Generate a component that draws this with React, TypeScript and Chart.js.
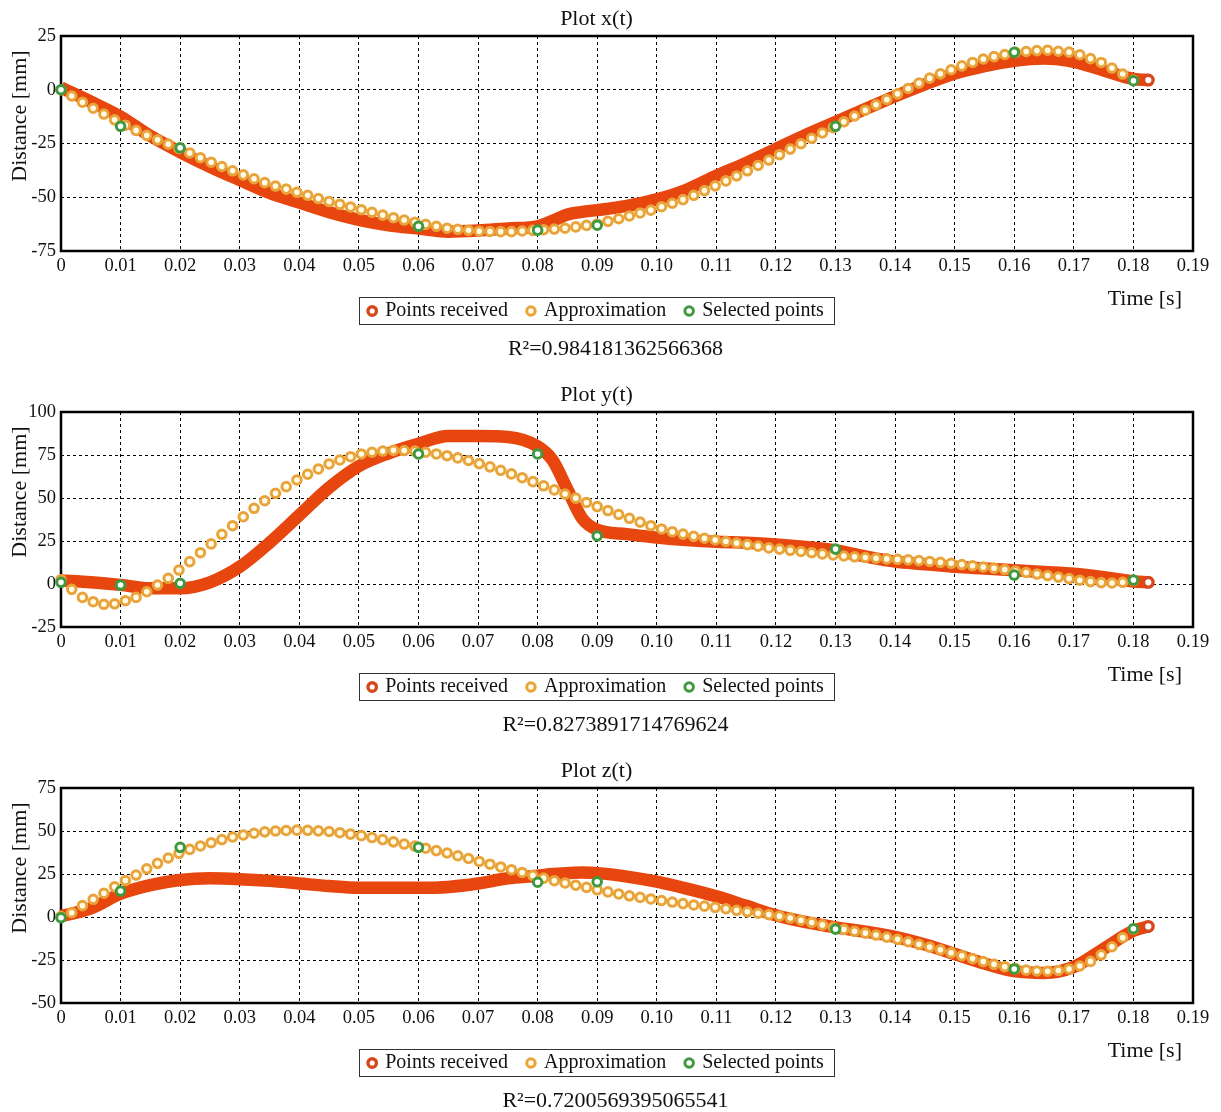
import React, { useEffect, useRef } from 'react';
import { Chart, registerables } from 'chart.js';

Chart.register(...registerables);

const FONT = "'Liberation Serif', 'Times New Roman', serif";
const TEXT = '#111';
const RED = '#e8460f';
const RED_RING = '#d8481e';
const ORANGE = '#e8a43a';
const ORANGE_FILL = '#fffbe6';
const GREEN = '#3f9a3f';

// ---------- axes ----------
const xTickValues = [0, 0.01, 0.02, 0.03, 0.04, 0.05, 0.06, 0.07, 0.08, 0.09, 0.1, 0.11, 0.12, 0.13, 0.14, 0.15, 0.16, 0.17, 0.18, 0.19];
const xTickLabels = ['0', '0.01', '0.02', '0.03', '0.04', '0.05', '0.06', '0.07', '0.08', '0.09', '0.10', '0.11', '0.12', '0.13', '0.14', '0.15', '0.16', '0.17', '0.18', '0.19'];
const yTicksX = [-75, -50, -25, 0, 25];
const yTicksY = [-25, 0, 25, 50, 75, 100];
const yTicksZ = [-50, -25, 0, 25, 50, 75];

const legendLabels = ['Points received', 'Approximation', 'Selected points'];
const plotTitles = ['Plot x(t)', 'Plot y(t)', 'Plot z(t)'];
const r2Texts = ['R\u00b2=0.984181362566368', 'R\u00b2=0.8273891714769624', 'R\u00b2=0.7200569395065541'];
const xAxisTitle = 'Time [s]';
const yAxisTitle = 'Distance [mm]';

// ---------- points received (read along the thick band) ----------
const receivedTimes = [0, 0.005, 0.01, 0.015, 0.02, 0.025, 0.03, 0.035, 0.04, 0.045, 0.05, 0.055, 0.06, 0.065, 0.07, 0.075, 0.08, 0.0825, 0.085, 0.0875, 0.09, 0.095, 0.1, 0.105, 0.11, 0.115, 0.12, 0.125, 0.13, 0.135, 0.14, 0.145, 0.15, 0.155, 0.16, 0.165, 0.17, 0.175, 0.18, 0.1825];
const receivedX = [1, -5.5, -12.5, -21.5, -29, -35.8, -42, -48, -52.5, -57, -60.5, -63, -64.5, -66, -65.5, -64.5, -63.5, -61, -58, -56.8, -56, -54, -51, -46.5, -40, -34, -27.5, -21, -15, -9, -3, 2.5, 7.5, 11, 13.5, 14.5, 13, 9, 5, 4.5];
const receivedY = [2, 1, -0.5, -2.5, -2.5, 1, 10, 24, 40, 56, 68.5, 76, 81.5, 86, 86, 85.5, 80, 72, 55, 38, 31.5, 29, 27, 25.5, 24.5, 24, 23, 21.5, 19.5, 16, 13, 11.5, 10, 9, 8, 7, 6, 4, 1.5, 1];
const receivedZ = [0.5, 5, 13.5, 18.5, 21.5, 22.5, 22, 21, 19.5, 18, 17, 17, 17, 17.5, 19.5, 22.5, 24, 25, 25.5, 25.8, 25.5, 23.5, 20.5, 16.5, 12, 6.5, 1, -3, -6, -8.5, -11.5, -16, -21.5, -27, -31.5, -32.5, -29, -18.5, -8, -5.5];

// ---------- approximation markers ----------
const approxTimes = [
  0, 0.0018, 0.0036, 0.0054, 0.0072, 0.009, 0.0108, 0.0126, 0.0144, 0.0162,
  0.018, 0.0198, 0.0216, 0.0234, 0.0252, 0.027, 0.0288, 0.0306, 0.0324, 0.0342,
  0.036, 0.0378, 0.0396, 0.0414, 0.0432, 0.045, 0.0468, 0.0486, 0.0504, 0.0522,
  0.054, 0.0558, 0.0576, 0.0594, 0.0612, 0.063, 0.0648, 0.0666, 0.0684, 0.0702,
  0.072, 0.0738, 0.0756, 0.0774, 0.0792, 0.081, 0.0828, 0.0846, 0.0864, 0.0882,
  0.09, 0.0918, 0.0936, 0.0954, 0.0972, 0.099, 0.1008, 0.1026, 0.1044, 0.1062,
  0.108, 0.1098, 0.1116, 0.1134, 0.1152, 0.117, 0.1188, 0.1206, 0.1224, 0.1242,
  0.126, 0.1278, 0.1296, 0.1314, 0.1332, 0.135, 0.1368, 0.1386, 0.1404, 0.1422,
  0.144, 0.1458, 0.1476, 0.1494, 0.1512, 0.153, 0.1548, 0.1566, 0.1584, 0.1602,
  0.162, 0.1638, 0.1656, 0.1674, 0.1692, 0.171, 0.1728, 0.1746, 0.1764, 0.1782,
  0.18,
];
const approxX = [
  0, -2.9, -5.8, -8.6, -11.3, -14, -16.5, -18.9, -21.2, -23.3,
  -25.3, -27.3, -29.4, -31.6, -33.7, -35.7, -37.7, -39.6, -41.4, -43.2,
  -44.8, -46.2, -47.7, -49.1, -50.6, -52, -53.3, -54.5, -55.8, -57,
  -58.3, -59.5, -60.6, -61.6, -62.6, -63.5, -64.4, -64.9, -65.4, -65.8,
  -65.9, -66, -66, -65.7, -65.4, -65.1, -64.8, -64.4, -63.8, -63.1,
  -62.5, -61.2, -60, -58.7, -57.3, -56, -54.4, -52.8, -51.1, -49.1,
  -46.9, -44.7, -42.4, -40.1, -37.7, -35.2, -32.7, -30.2, -27.6, -25.1,
  -22.6, -20.1, -17.6, -14.9, -12.2, -9.5, -7, -4.5, -1.9, 0.6,
  3.1, 5.4, 7.4, 9.3, 11.1, 12.7, 14.3, 15.4, 16.4, 17.4,
  17.8, 18.2, 18.4, 17.9, 17.5, 16.3, 14.5, 12.7, 10.1, 7.3,
  4.5,
];
const approxY = [
  2.5, -3.1, -7.8, -10.3, -11.8, -11.5, -9.7, -7.8, -4.5, -0.6,
  3.3, 8.1, 13, 18.2, 23.3, 28.9, 33.9, 39.1, 44, 48.4,
  52.7, 56.6, 60.5, 63.8, 66.9, 69.8, 72.1, 74, 75.6, 76.6,
  77.3, 77.7, 77.6, 77.3, 76.6, 75.6, 74.6, 73.3, 71.8, 70,
  68.1, 66.1, 64, 61.8, 59.5, 57.1, 54.7, 52.3, 49.9, 47.4,
  45, 42.7, 40.4, 38.2, 36, 33.9, 32, 30.4, 29, 27.7,
  26.6, 25.6, 24.7, 23.8, 22.9, 22, 21, 20.3, 19.6, 18.9,
  18.2, 17.5, 16.9, 16.3, 15.8, 15.4, 15, 14.6, 14.3, 14,
  13.6, 13.1, 12.6, 12, 11.3, 10.6, 9.9, 9.2, 8.4, 7.6,
  6.7, 5.8, 4.9, 4, 3.1, 2.2, 1.4, 0.8, 0.6, 1,
  2,
];
const approxZ = [
  0.2, 2.5, 6.6, 10.3, 13.8, 17.6, 21.2, 24.4, 28, 31.2,
  34.3, 37, 39.3, 41.3, 43.2, 45, 46.5, 47.7, 48.7, 49.5,
  50, 50.3, 50.5, 50.4, 50.1, 49.7, 49, 48.2, 47.3, 46.2,
  45, 43.7, 42.4, 41.2, 40, 38.6, 37.2, 35.6, 34, 32.3,
  30.7, 29.1, 27.5, 25.9, 24.2, 22.6, 21.1, 19.8, 18.5, 17.2,
  15.8, 14.6, 13.4, 12.3, 11.4, 10.5, 9.6, 8.7, 7.8, 7,
  6.3, 5.6, 4.8, 3.9, 3, 2.2, 1.4, 0.5, -0.6, -1.9,
  -3.2, -4.6, -6, -7.2, -8.3, -9.4, -10.5, -11.7, -13, -14.4,
  -15.9, -17.5, -19.1, -20.8, -22.5, -24.2, -25.9, -27.5, -28.9, -30,
  -30.9, -31.4, -31.5, -31.1, -30.2, -28.5, -25.8, -22, -17.3, -12,
  -7,
];

// ---------- selected points ----------
const selectedTimes = [0, 0.01, 0.02, 0.06, 0.08, 0.09, 0.13, 0.16, 0.18];
const selectedX = [0, -17, -27, -63.5, -65.3, -63, -17, 17.4, 4.2];
const selectedY = [1, -0.6, 0.4, 75.6, 75.6, 27.9, 20.3, 5.2, 2.3];
const selectedZ = [-0.4, 15.1, 40.5, 40.5, 20.2, 20.5, -7, -30.2, -6.8];

type Spec = {
  title: string;
  r2: string;
  yMin: number;
  yMax: number;
  yTicks: number[];
  received: number[];
  approx: number[];
  selected: number[];
};

const specs: Spec[] = [
  { title: plotTitles[0], r2: r2Texts[0], yMin: -75, yMax: 25, yTicks: yTicksX, received: receivedX, approx: approxX, selected: selectedX },
  { title: plotTitles[1], r2: r2Texts[1], yMin: -25, yMax: 100, yTicks: yTicksY, received: receivedY, approx: approxY, selected: selectedY },
  { title: plotTitles[2], r2: r2Texts[2], yMin: -50, yMax: 75, yTicks: yTicksZ, received: receivedZ, approx: approxZ, selected: selectedZ },
];

const decorPlugin = {
  id: 'decor',
  beforeDatasetsDraw(chart: any) {
    const { ctx, chartArea: a } = chart;
    ctx.save();
    ctx.strokeStyle = '#000';
    ctx.lineWidth = 2.5;
    ctx.strokeRect(a.left, a.top, a.right - a.left, a.bottom - a.top);
    ctx.restore();
  },
  afterDraw(chart: any, _args: any, opts: any) {
    const { ctx, chartArea: a } = chart;
    ctx.save();
    ctx.fillStyle = TEXT;
    ctx.font = `22px ${FONT}`;
    ctx.textBaseline = 'middle';
    // y axis title
    ctx.save();
    ctx.translate(a.left - 41, a.top + 80);
    ctx.rotate(-Math.PI / 2);
    ctx.textAlign = 'center';
    ctx.fillText(opts.yTitle, 0, 0);
    ctx.restore();
    // x axis title
    ctx.textAlign = 'right';
    ctx.fillText(opts.xTitle, a.right - 11, a.bottom + 48);
    // R^2 text
    ctx.textAlign = 'center';
    ctx.fillText(opts.r2, (a.left + a.right) / 2 - 11.5, a.bottom + 98);
    // legend frame
    const hb = chart.legend && chart.legend.legendHitBoxes;
    if (hb && hb.length) {
      const first = hb[0];
      const last = hb[hb.length - 1];
      const l = Math.round(first.left - 10) + 0.5;
      const r = Math.round(last.left + last.width + 10) + 0.5;
      const t = Math.round(first.top - 4) + 0.5;
      const b = Math.round(first.top + first.height + 3) + 0.5;
      ctx.strokeStyle = '#333';
      ctx.lineWidth = 1;
      ctx.strokeRect(l, t, r - l, b - t);
    }
    ctx.restore();
  },
};

function SubPlot({ spec, height }: { spec: Spec; height: number }) {
  const ref = useRef<HTMLCanvasElement | null>(null);
  useEffect(() => {
    if (!ref.current) return;
    const lastIdx = receivedTimes.length - 1;
    const yLabels = spec.yTicks.map((v) => String(v));
    const chart = new Chart(ref.current, {
      type: 'line',
      data: {
        datasets: [
          {
            label: legendLabels[0],
            data: receivedTimes.map((t, i) => ({ x: t, y: spec.received[i] })),
            borderColor: RED,
            backgroundColor: RED,
            borderWidth: 12.5,
            cubicInterpolationMode: 'monotone',
            fill: false,
            pointRadius: (c: any) => (c.dataIndex === lastIdx ? 4.8 : 0),
            pointHoverRadius: 0,
            pointStyle: 'circle',
            pointBorderColor: RED_RING,
            pointBackgroundColor: '#ffffff',
            pointBorderWidth: 3.4,
            order: 3,
            clip: false,
          } as any,
          {
            label: legendLabels[1],
            data: approxTimes.map((t, i) => ({ x: t, y: spec.approx[i] })),
            showLine: false,
            pointStyle: 'circle',
            pointRadius: 4.3,
            pointHoverRadius: 4.3,
            pointBorderColor: ORANGE,
            pointBackgroundColor: ORANGE_FILL,
            pointBorderWidth: 3,
            borderColor: ORANGE,
            backgroundColor: ORANGE_FILL,
            order: 2,
            clip: false,
          } as any,
          {
            label: legendLabels[2],
            data: selectedTimes.map((t, i) => ({ x: t, y: spec.selected[i] })),
            showLine: false,
            pointStyle: 'circle',
            pointRadius: 4.3,
            pointHoverRadius: 4.3,
            pointBorderColor: GREEN,
            pointBackgroundColor: '#ffffff',
            pointBorderWidth: 3,
            borderColor: GREEN,
            backgroundColor: '#ffffff',
            order: 1,
            clip: false,
          } as any,
        ],
      },
      options: {
        responsive: false,
        animation: false,
        devicePixelRatio: 1,
        events: [],
        layout: { padding: { left: 0, right: 28, top: 0, bottom: 45 } },
        scales: {
          x: {
            type: 'linear',
            min: 0,
            max: 0.19,
            afterBuildTicks: (s: any) => {
              s.ticks = xTickValues.map((v) => ({ value: v }));
            },
            afterFit: (s: any) => {
              s.height = 30;
            },
            ticks: {
              autoSkip: false,
              maxRotation: 0,
              minRotation: 0,
              padding: 4,
              color: TEXT,
              font: { family: FONT, size: 18.5 },
              callback: (_v: any, i: number) => xTickLabels[i],
            },
            grid: { color: '#000', lineWidth: 1, drawTicks: false },
            border: { display: false, dash: [3, 3] },
          },
          y: {
            type: 'linear',
            min: spec.yMin,
            max: spec.yMax,
            afterBuildTicks: (s: any) => {
              s.ticks = spec.yTicks.map((v) => ({ value: v }));
            },
            afterFit: (s: any) => {
              s.width = 61;
            },
            ticks: {
              padding: 5,
              color: TEXT,
              font: { family: FONT, size: 18.5 },
              callback: (_v: any, i: number) => yLabels[i],
            },
            grid: { color: '#000', lineWidth: 1, drawTicks: false },
            border: { display: false, dash: [3, 3] },
          },
        },
        plugins: {
          title: {
            display: true,
            text: spec.title,
            color: TEXT,
            font: { family: FONT, size: 22, weight: 'normal' },
            padding: { top: 6, bottom: 3.6 },
          },
          legend: {
            display: true,
            position: 'bottom',
            labels: {
              usePointStyle: true,
              boxWidth: 6,
              boxHeight: 6,
              padding: 20,
              color: TEXT,
              font: { family: FONT, size: 20 },
              sort: (a: any, b: any) => a.datasetIndex - b.datasetIndex,
            },
          },
          tooltip: { enabled: false },
          decor: { yTitle: yAxisTitle, xTitle: xAxisTitle, r2: spec.r2 },
        } as any,
      },
      plugins: [decorPlugin as any],
    });
    return () => chart.destroy();
  }, [spec]);
  return (
    <div style={{ width: 1221, height, overflow: 'hidden' }}>
      <canvas ref={ref} width={1221} height={376} style={{ display: 'block', width: 1221, height: 376 }} />
    </div>
  );
}

export default function App() {
  useEffect(() => {
    document.body.style.margin = '0';
    document.body.style.overflow = 'hidden';
    document.body.style.background = '#ffffff';
  }, []);
  return (
    <div style={{ width: 1221, height: 1112, overflow: 'hidden', background: '#ffffff' }}>
      {specs.map((s, k) => (
        <SubPlot key={k} spec={s} height={k === 2 ? 360 : 376} />
      ))}
    </div>
  );
}
